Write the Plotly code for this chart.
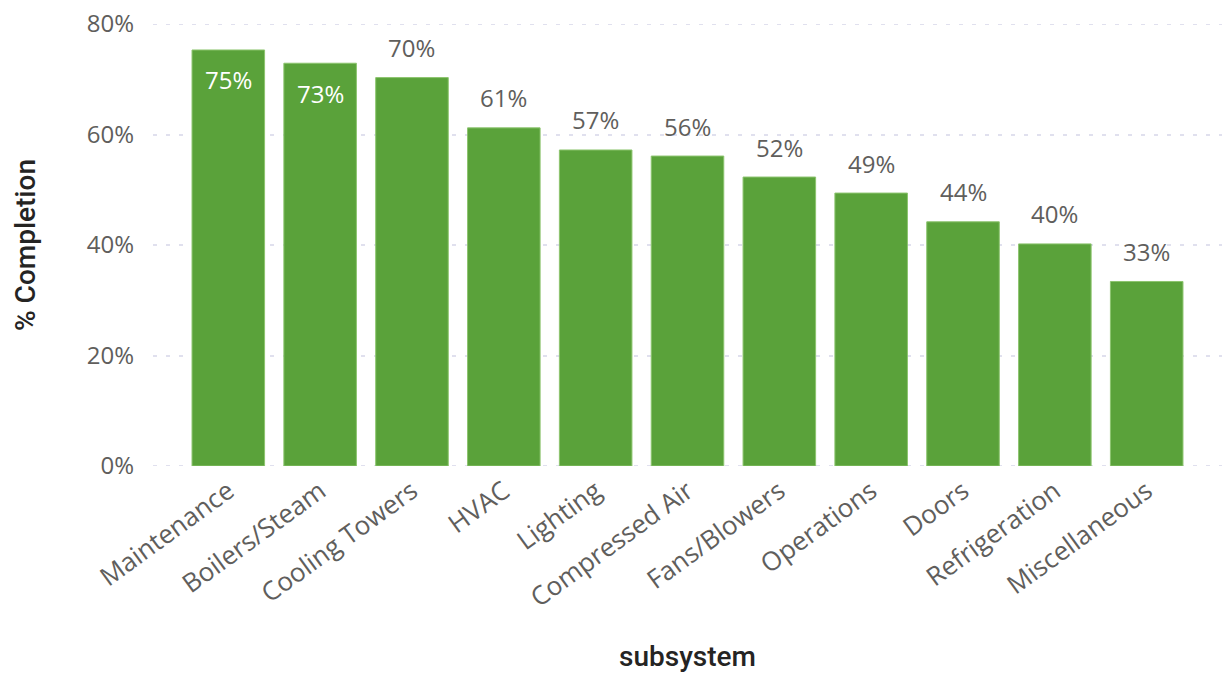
import plotly.graph_objects as go

categories = ["Maintenance", "Boilers/Steam", "Cooling Towers", "HVAC", "Lighting",
              "Compressed Air", "Fans/Blowers", "Operations", "Doors", "Refrigeration",
              "Miscellaneous"]
completion = [0.753, 0.729, 0.703, 0.612, 0.572, 0.561, 0.523, 0.494, 0.442, 0.402, 0.334]
label_inside = [True, True, False, False, False, False, False, False, False, False, False]
y_ticks = [0, 0.2, 0.4, 0.6, 0.8]
y_tick_labels = ["0%", "20%", "40%", "60%", "80%"]

FONT = "Open Sans"
TITLE_FONT = "Roboto"
GREEN = "#5AA23A"
GRAY = "#605E5C"
GRID = "#E0E0EE"
GRID_DASH = "4px,9px"

fig = go.Figure()
fig.add_trace(go.Bar(
    x=categories, y=completion,
    marker=dict(color=GREEN, line=dict(color="#8CC46E", width=1)),
    width=0.79,
    hoverinfo="x+y",
))

# edge gridlines (0% and 80%) drawn below the bars
for yv in (y_ticks[0], y_ticks[-1]):
    fig.add_shape(type="line", xref="paper", yref="y", x0=0, x1=1, y0=yv, y1=yv,
                  line=dict(color=GRID, width=2, dash=GRID_DASH), layer="below")

for cat, val, inside in zip(categories, completion, label_inside):
    fig.add_annotation(
        x=cat, y=val, xref="x", yref="y",
        text=f"{round(val * 100)}%",
        showarrow=False, yanchor="middle",
        yshift=-30 if inside else 30,
        font=dict(family=FONT, size=24, color="white" if inside else GRAY),
    )

fig.update_layout(
    width=1225, height=673,
    margin=dict(l=153, r=3, t=24, b=207),
    plot_bgcolor="white", paper_bgcolor="white",
    showlegend=False,
    font=dict(family=FONT, color=GRAY),
    xaxis=dict(
        range=[-0.82, 10.82],
        tickangle=-36,
        tickfont=dict(family=FONT, size=26, color=GRAY),
        ticklabelstandoff=4,
        showgrid=False, showline=False, zeroline=False,
        title=dict(text="subsystem", font=dict(family=TITLE_FONT, size=28, color="#252423", weight=500), standoff=36),
    ),
    yaxis=dict(
        range=[0, 0.8],
        tickvals=y_ticks, ticktext=y_tick_labels,
        tickfont=dict(family=FONT, size=24, color=GRAY),
        ticklabelstandoff=18,
        showgrid=True, gridcolor=GRID, gridwidth=2, griddash=GRID_DASH,
        zeroline=False, showline=False,
        title=dict(text="% Completion", font=dict(family=TITLE_FONT, size=28, color="#252423", weight=500), standoff=42),
    ),
)

fig.write_html("out.html")
